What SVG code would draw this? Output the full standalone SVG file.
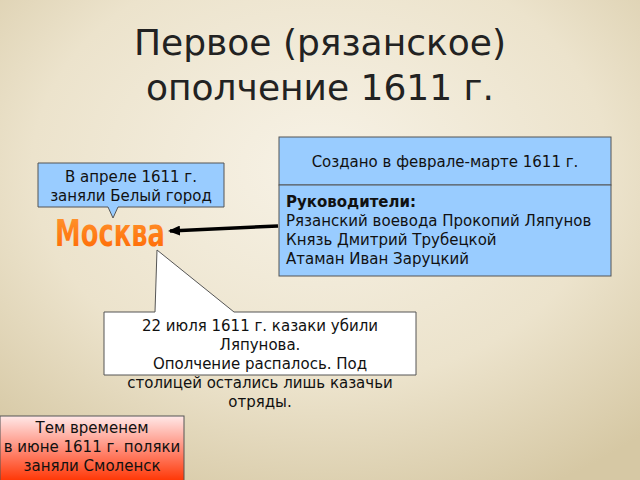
<svg xmlns="http://www.w3.org/2000/svg" width="640" height="480" viewBox="0 0 640 480">
<defs>
<radialGradient id="bg" cx="50%" cy="35%" r="75%"><stop offset="0" stop-color="#f7f2e6"/><stop offset="0.6" stop-color="#ece3cc"/><stop offset="1" stop-color="#d6c8a4"/></radialGradient>
<linearGradient id="red" x1="0" y1="0" x2="0" y2="1"><stop offset="0" stop-color="#ffe8e8"/><stop offset="0.5" stop-color="#ff8c78"/><stop offset="1" stop-color="#ff3300"/></linearGradient>
<linearGradient id="org" x1="0" y1="0" x2="0" y2="1"><stop offset="0" stop-color="#ff9933"/><stop offset="1" stop-color="#ff6600"/></linearGradient>
<marker id="ah" markerWidth="12" markerHeight="10" refX="10" refY="5" orient="auto" markerUnits="userSpaceOnUse"><path d="M0,0 L12,5 L0,10 z" fill="#000"/></marker>
</defs>
<style>
text{font-family:"DejaVu Sans",sans-serif;fill:#111}
.t{font-size:15px}
.box{fill:#99ccff;stroke:#555;stroke-width:1}
</style>
<rect width="640" height="480" fill="url(#bg)"/>
<text x="320" y="55" text-anchor="middle" style="font-size:36px;fill:#222">Первое (рязанское)</text>
<text x="320" y="100" text-anchor="middle" style="font-size:36px;fill:#222">ополчение 1611 г.</text>
<g id="created"><rect class="box" x="279" y="137" width="332" height="48"/><text class="t" x="445" y="167" text-anchor="middle">Создано в феврале-марте 1611 г.</text></g>
<g id="leaders"><rect class="box" x="279" y="185" width="332" height="91"/>
<text class="t" x="286" y="207" font-weight="bold">Руководители:</text>
<text class="t" x="286" y="226">Рязанский воевода Прокопий Ляпунов</text>
<text class="t" x="286" y="245">Князь Дмитрий Трубецкой</text>
<text class="t" x="286" y="264">Атаман Иван Заруцкий</text></g>
<g id="april"><path d="M38,163 H224 V207 H118 L113,218 L108,207 H38 Z" fill="#99ccff" stroke="#555"/>
<text class="t" x="131" y="182" text-anchor="middle">В апреле 1611 г.</text>
<text class="t" x="131" y="201" text-anchor="middle">заняли Белый город</text></g>
<g id="moscow"><text x="110" y="246" text-anchor="middle" style="font-family:'DejaVu Sans Condensed','DejaVu Sans',sans-serif;font-weight:bold;font-size:38px;fill:url(#org)" textLength="110" lengthAdjust="spacingAndGlyphs">Москва</text></g>
<g id="connectors"><line x1="278" y1="226" x2="170" y2="231" stroke="#000" stroke-width="3.5" marker-end="url(#ah)"/></g>
<g id="july"><path d="M104,312 H155 L157,250 L234,312 H416 V375 H104 Z" fill="#fff" stroke="#555"/>
<text class="t" x="260" y="331" text-anchor="middle">22 июля 1611 г. казаки убили</text>
<text class="t" x="260" y="350" text-anchor="middle">Ляпунова.</text>
<text class="t" x="260" y="369" text-anchor="middle">Ополчение распалось. Под</text>
<text class="t" x="260" y="388" text-anchor="middle">столицей остались лишь казачьи</text>
<text class="t" x="260" y="407" text-anchor="middle">отряды.</text></g>
<g id="smolensk"><rect x="0" y="416" width="184" height="66" fill="url(#red)" stroke="#555"/>
<text class="t" x="92" y="433" text-anchor="middle">Тем временем</text>
<text class="t" x="92" y="452" text-anchor="middle">в июне 1611 г. поляки</text>
<text class="t" x="92" y="471" text-anchor="middle">заняли Смоленск</text></g>
</svg>
